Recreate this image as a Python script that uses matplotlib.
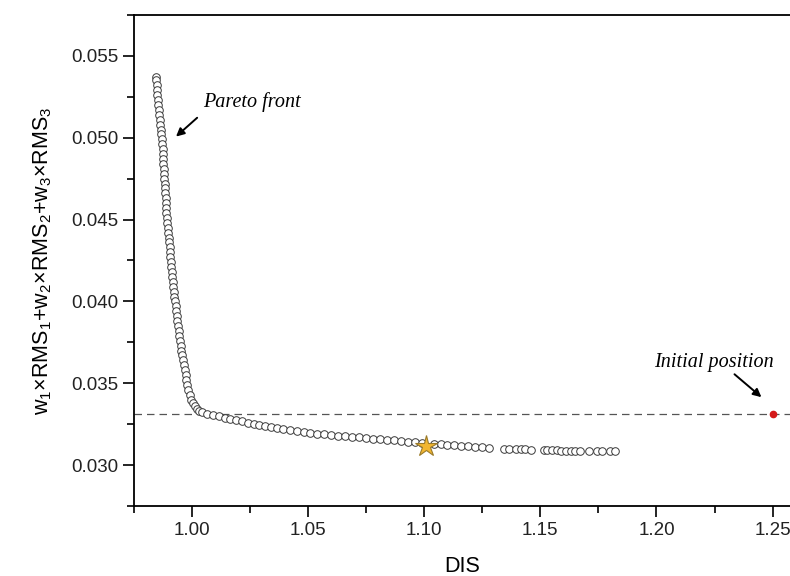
import numpy as np
import matplotlib
matplotlib.use('Agg')
import matplotlib.pyplot as plt
from matplotlib.ticker import MultipleLocator, FormatStrFormatter

plt.rcParams['font.family'] = ['Liberation Sans', 'DejaVu Sans']
plt.rcParams['mathtext.default'] = 'regular'

# pareto front, steep part
steep_y = [0.0537, 0.0535, 0.0532, 0.0529, 0.0526, 0.0523, 0.0520, 0.0517, 0.0514, 0.0511,
           0.0508, 0.0505, 0.0502, 0.0499, 0.0496, 0.0493, 0.0490, 0.0487, 0.0484, 0.0481,
           0.0478, 0.0475, 0.0472, 0.0469, 0.0466, 0.0463, 0.0460, 0.0457, 0.0454, 0.0451,
           0.0448, 0.0445, 0.0442, 0.0439, 0.0436, 0.0433, 0.0430, 0.0427, 0.0424, 0.0421,
           0.0418, 0.0415, 0.0412, 0.0409, 0.0406, 0.0403, 0.0400, 0.0397, 0.0394, 0.0391,
           0.0388, 0.0385, 0.0382, 0.0379, 0.0376, 0.0373, 0.0370, 0.0367, 0.0364, 0.0361,
           0.0358, 0.0355, 0.0352, 0.0349, 0.0346, 0.0343, 0.0340, 0.0338, 0.0336, 0.0334,
           0.0333]
steep_x = [0.9845, 0.9846, 0.9848, 0.9849, 0.9851, 0.9853, 0.9855, 0.9857, 0.9859, 0.9861,
           0.9863, 0.9865, 0.9868, 0.9870, 0.9872, 0.9873, 0.9874, 0.9876, 0.9877, 0.9879,
           0.9880, 0.9881, 0.9883, 0.9884, 0.9885, 0.9887, 0.9888, 0.9889, 0.9890, 0.9891,
           0.9893, 0.9895, 0.9897, 0.9899, 0.9901, 0.9903, 0.9905, 0.9907, 0.9909, 0.9911,
           0.9913, 0.9915, 0.9917, 0.9919, 0.9921, 0.9924, 0.9927, 0.9929, 0.9931, 0.9934,
           0.9936, 0.9939, 0.9942, 0.9945, 0.9948, 0.9951, 0.9954, 0.9957, 0.9961, 0.9964,
           0.9968, 0.9972, 0.9976, 0.9980, 0.9984, 0.9990, 0.9997, 1.0004, 1.0012, 1.0022,
           1.0032]

# pareto front, flat part
flat_x = [1.0045, 1.0065, 1.0090, 1.0115, 1.0140, 1.0165, 1.0190, 1.0215, 1.0240, 1.0265,
          1.0290, 1.0315, 1.0340, 1.0365, 1.0390, 1.0420, 1.0450, 1.0480, 1.0510, 1.0540,
          1.0570, 1.0600, 1.0630, 1.0660, 1.0690, 1.0720, 1.0750, 1.0780, 1.0810, 1.0840,
          1.0870, 1.0900, 1.0930, 1.0960, 1.0990, 1.1040, 1.1070, 1.1100, 1.1130, 1.1160,
          1.1190, 1.1220, 1.1250, 1.1280,
          1.1345, 1.1365, 1.1395, 1.1415, 1.1435, 1.1460,
          1.1515, 1.1530, 1.1550, 1.1570, 1.1590, 1.1610, 1.1630, 1.1650, 1.1670,
          1.1710, 1.1745, 1.1765, 1.1800, 1.1820]
flat_y = [0.03325, 0.03315, 0.03305, 0.03298, 0.03290, 0.03282, 0.03275, 0.03268, 0.03260, 0.03253,
          0.03246, 0.03240, 0.03232, 0.03226, 0.03220, 0.03213, 0.03207, 0.03202, 0.03197, 0.03192,
          0.03188, 0.03184, 0.03180, 0.03177, 0.03173, 0.03170, 0.03166, 0.03162, 0.03158, 0.03155,
          0.03151, 0.03147, 0.03143, 0.03139, 0.03135, 0.03130, 0.03127, 0.03124, 0.03121, 0.03118,
          0.03115, 0.03112, 0.03110, 0.03107,
          0.03100, 0.03100, 0.03098, 0.03097, 0.03096, 0.03095,
          0.03092, 0.03092, 0.03091, 0.03090, 0.03089, 0.03089, 0.03088, 0.03088, 0.03087,
          0.03086, 0.03086, 0.03085, 0.03085, 0.03084]

best_x, best_y = 1.1009, 0.03118
init_x, init_y = 1.25, 0.0331

fig = plt.figure(figsize=(7.9, 5.76), dpi=100)
ax = fig.add_axes([0.1696, 0.1215, 0.8304, 0.8525])

px = steep_x + flat_x
py = steep_y + flat_y
ax.scatter(px, py, s=30, facecolor='white', edgecolor='#3a3a3a', linewidths=0.7, zorder=3)

ax.axhline(init_y, color='#555555', lw=0.9, dashes=(6, 4), zorder=1)
ax.plot(best_x, best_y, marker='*', ms=16, mfc='#f2b630', mec='#9a7a2a', mew=0.8, zorder=5)
ax.plot(init_x, init_y, 'o', ms=4.5, color='#d41a1a', zorder=5)

arrow = dict(arrowstyle='-|>', color='black', lw=1.4, mutation_scale=12, shrinkA=0, shrinkB=0)
ax.text(1.0047, 0.0519, 'Pareto front', fontsize=14.5, family='Liberation Serif',
        style='italic', ha='left', va='baseline')
ax.annotate('', xy=(0.9931, 0.05007), xytext=(1.0022, 0.05122), arrowprops=arrow)
ax.text(1.2248, 0.0360, 'Initial position', fontsize=14.5, family='Liberation Serif',
        style='italic', ha='center', va='baseline')
ax.annotate('', xy=(1.2452, 0.03415), xytext=(1.2336, 0.03555), arrowprops=arrow)

ax.set_xlim(0.975, 1.2575)
ax.set_ylim(0.0275, 0.0575)
ax.xaxis.set_major_locator(MultipleLocator(0.05))
ax.xaxis.set_minor_locator(MultipleLocator(0.025))
ax.yaxis.set_major_locator(MultipleLocator(0.005))
ax.yaxis.set_minor_locator(MultipleLocator(0.0025))
ax.xaxis.set_major_formatter(FormatStrFormatter('%.2f'))
ax.yaxis.set_major_formatter(FormatStrFormatter('%.3f'))
ax.tick_params(which='major', direction='out', length=8, width=1.2, labelsize=13.5,
               labelcolor='#222222', top=False, right=False)
ax.tick_params(which='minor', direction='out', length=5, width=1.2, top=False, right=False)
ax.spines['right'].set_visible(False)
for s in ['left', 'bottom', 'top']:
    ax.spines[s].set_linewidth(1.3)

ax.set_xlabel('DIS', fontsize=15.5, labelpad=12)
ax.set_ylabel('w$_1$×RMS$_1$+w$_2$×RMS$_2$+w$_3$×RMS$_3$', fontsize=15.5, labelpad=12)

fig.savefig('out.png', dpi=100)
